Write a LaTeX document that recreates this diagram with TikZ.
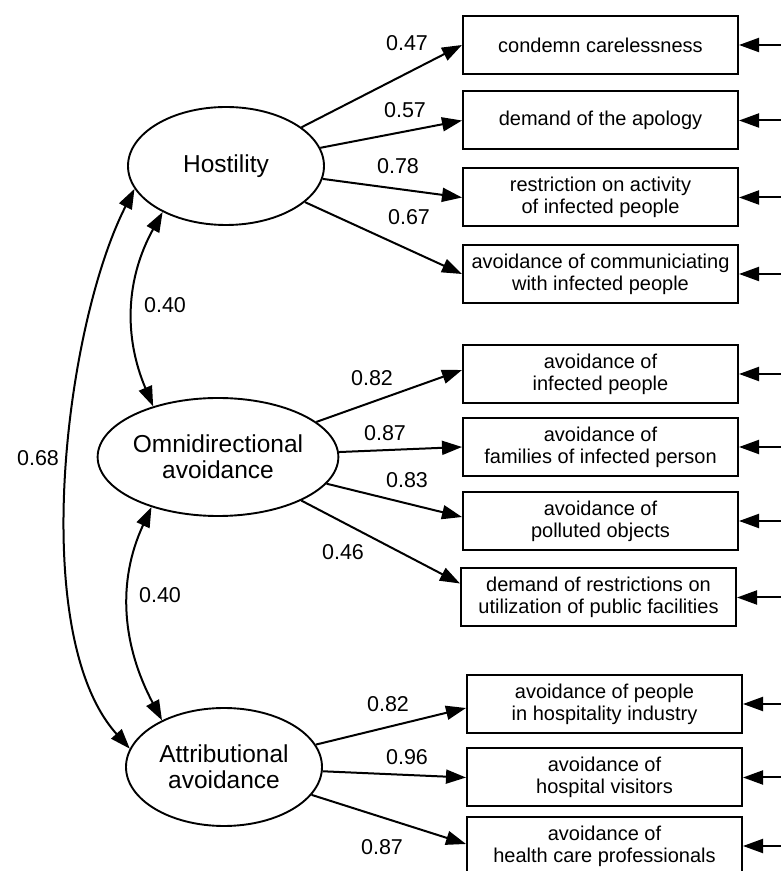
\documentclass[tikz,border=0pt]{standalone}
\usepackage{fontspec}
\setmainfont{Liberation Sans}
\usetikzlibrary{arrows.meta,shapes.geometric}

\begin{document}
\begin{tikzpicture}[x=1pt,y=1pt,
  item/.style={draw,line width=2pt,minimum width=275pt,minimum height=58pt,inner sep=0pt,align=center,font=\fontsize{20}{22}\selectfont},
  factor/.style={draw,ellipse,line width=1.9pt,minimum width=196pt,minimum height=118pt,inner sep=0pt,align=center,font=\fontsize{24.5}{26}\selectfont},
  coef/.style={font=\fontsize{21.5}{21.5}\selectfont},
  loading/.style={line width=2pt,-{Triangle[length=20pt,width=14pt]}},
  cov/.style={line width=2pt,{Triangle[length=20pt,width=14pt]}-{Triangle[length=20pt,width=14pt]}}]
 \useasboundingbox (0,0) rectangle (781,871);
 % latent factors
 \node[factor] (hos) at (226,705) {Hostility};
 \node[factor] (omni) at (218,414) {Omnidirectional\\avoidance};
 \node[factor] (att) at (224,104) {Attributional\\avoidance};
 % observed items
 \node[item] (b1) at (600.5,826) {condemn carelessness};
 \node[item] (b2) at (600.5,750.5) {demand of the apology};
 \node[item] (b3) at (600.5,673.5) {restriction on activity\\of infected people};
 \node[item] (b4) at (600.5,597) {avoidance of communiciating\\with infected people};
 \node[item] (b5) at (600.5,497) {avoidance of\\infected people};
 \node[item] (b6) at (600.5,424) {avoidance of\\families of infected person};
 \node[item] (b7) at (600.5,350) {avoidance of\\polluted objects};
 \node[item] (b8) at (598.5,273.5) {demand of restrictions on\\utilization of public facilities};
 \node[item] (b9) at (604.5,167) {avoidance of people\\in hospitality industry};
 \node[item] (b10) at (604.5,93.5) {avoidance of\\hospital visitors};
 \node[item] (b11) at (604.5,25) {avoidance of\\health care professionals};
 % loadings
 \draw[loading] (hos) -- (b1.west);
 \draw[loading] (hos) -- (b2.west);
 \draw[loading] (hos) -- (b3.west);
 \draw[loading] (hos) -- (b4.west);
 \draw[loading] (omni) -- ([yshift=4pt]b5.west);
 \draw[loading] (omni) -- (b6.west);
 \draw[loading] (omni) -- ([yshift=4pt]b7.west);
 \draw[loading] (omni) -- ([yshift=14pt]b8.west);
 \draw[loading] (att) -- ([yshift=-4pt]b9.west);
 \draw[loading] (att) -- (b10.west);
 \draw[loading] (att) -- ([yshift=2pt]b11.west);
 \node[coef] (c1) at (407,828) {0.47};
 \node[coef] (c2) at (405,761) {0.57};
 \node[coef] (c3) at (398,705) {0.78};
 \node[coef] (c4) at (409,654) {0.67};
 \node[coef] (c5) at (372,493) {0.82};
 \node[coef] (c6) at (385,438) {0.87};
 \node[coef] (c7) at (407,391) {0.83};
 \node[coef] (c8) at (343,319) {0.46};
 \node[coef] (c9) at (388,167) {0.82};
 \node[coef] (c10) at (407,114) {0.96};
 \node[coef] (c11) at (382,24) {0.87};
 % error terms
 \foreach \i in {1,...,11}
  \coordinate (e\i) at ([xshift=80pt]b\i.east);
 \foreach \i in {1,...,11}
  \draw[loading] (e\i) -- (b\i.east);
 % correlations
 \draw[cov] (hos.216) to[out=241,in=113] (omni.142);
 \draw[cov] (omni.217) to[out=245,in=118] (att.143);
 \draw[cov] (hos.194) to[out=243,in=132,looseness=0.7] (att.169);
 \node[coef] (r1) at (165,566) {0.40};
 \node[coef] (r2) at (160,276) {0.40};
 \node[coef] (r3) at (38,413) {0.68};
\end{tikzpicture}
\end{document}
